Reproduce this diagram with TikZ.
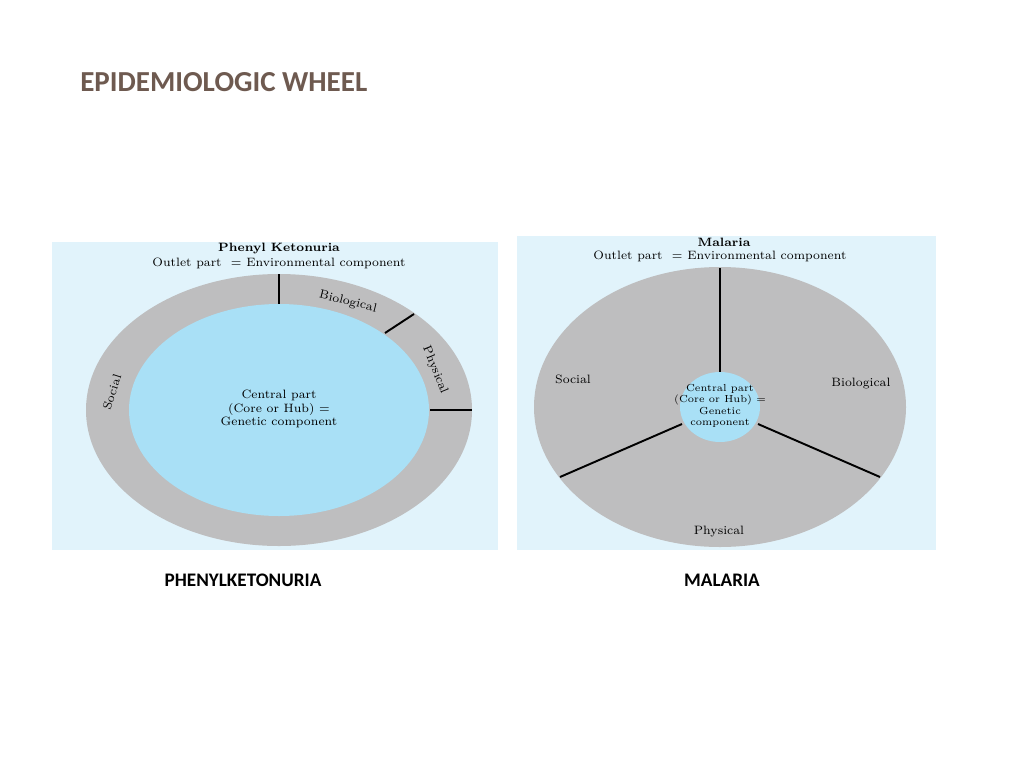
\documentclass[tikz,border=0pt]{standalone}
\usepackage{fontspec}
\setsansfont{Carlito}
\usepackage{tikz}
\definecolor{panelblue}{HTML}{E1F3FB}
\definecolor{rimgray}{HTML}{BEBEBF}
\definecolor{hubblue}{HTML}{A9E0F6}
\definecolor{titlebrown}{HTML}{6E5A50}
\tikzset{
  wheeltext/.style={font=\fontsize{6.9}{7.8}\selectfont, align=center, inner sep=0pt},
  caption/.style={font=\sffamily\bfseries\fontsize{10.9}{12}\selectfont},
  spoke/.style={line width=1.1pt}
}
\begin{document}
\begin{tikzpicture}[x=0.02cm, y=-0.02cm]
  \useasboundingbox (0,0) rectangle (1024,768);
  \node[anchor=west, inner sep=0pt, font=\sffamily\bfseries\fontsize{16.5}{18}\selectfont, text=titlebrown] (title) at (80,82) {EPIDEMIOLOGIC WHEEL};
  % phenylketonuria wheel
  \fill[panelblue] (52,242) rectangle (498,550);
  \fill[rimgray] (279,410) ellipse [x radius=193, y radius=136];
  \fill[hubblue] (279,410) ellipse [x radius=150, y radius=106];
  \draw[spoke] (279,274) -- (279,304);
  \draw[spoke] (385,333) -- (414,314);
  \draw[spoke] (430,410) -- (472,410);
  \node[wheeltext, font=\bfseries\fontsize{6.9}{7.8}\selectfont] (pkuname) at (279,248) {Phenyl Ketonuria};
  \node[wheeltext] (pkuout) at (279,263) {Outlet part \ = Environmental component};
  \node[wheeltext, rotate=-14] (pkubio) at (348,302) {Biological};
  \node[wheeltext, rotate=-68] (pkuphys) at (435,370) {Physical};
  \node[wheeltext, rotate=72] (pkusoc) at (112,392) {Social};
  \node[wheeltext] (pkuhub) at (279,409) {Central part\\(Core or Hub) =\\Genetic component};
  % malaria wheel
  \fill[panelblue] (517,236) rectangle (936,550);
  \fill[rimgray] (720,407) ellipse [x radius=186, y radius=140];
  \fill[hubblue] (720,407) ellipse [x radius=40, y radius=35];
  \draw[spoke] (720,268) -- (720,372);
  \draw[spoke] (682,424) -- (560,477);
  \draw[spoke] (758,424) -- (880,477);
  \node[wheeltext, font=\bfseries\fontsize{6.9}{7.8}\selectfont] (malname) at (724,242) {Malaria};
  \node[wheeltext] (malout) at (720,256) {Outlet part \ = Environmental component};
  \node[wheeltext] (malsoc) at (573,379) {Social};
  \node[wheeltext] (malbio) at (861,384) {Biological};
  \node[wheeltext] (malphys) at (719,532) {Physical};
  \node[wheeltext, font=\fontsize{5.8}{6.5}\selectfont] (malhub) at (720,406) {Central part\\(Core or Hub) =\\Genetic\\component};
  % captions
  \node[caption] (pkucap) at (243,580) {PHENYLKETONURIA};
  \node[caption] (malcap) at (722,580) {MALARIA};
\end{tikzpicture}
\end{document}
